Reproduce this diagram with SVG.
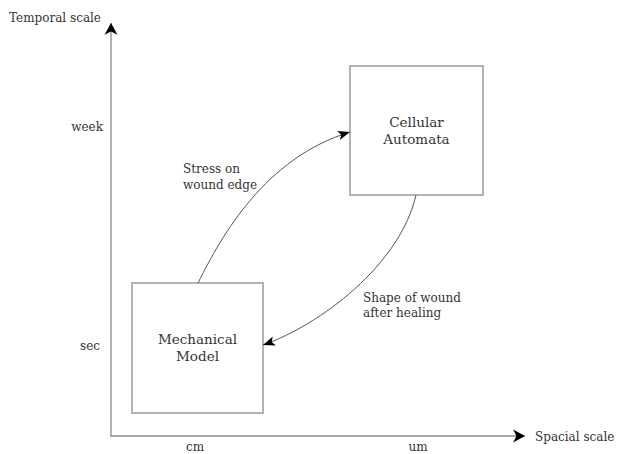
<svg xmlns="http://www.w3.org/2000/svg" width="618" height="454" viewBox="0 0 618 454">
<defs>
<style>
text{font-family:"DejaVu Serif","Liberation Serif",serif;fill:#333;}
.lbl{font-size:12px;}
.node{font-size:13.5px;text-anchor:middle;}
.box{fill:#fff;stroke:#9a9a9a;stroke-width:1.5;}
.axis{fill:none;stroke:#aaa;stroke-width:1.8;}
.edge{fill:none;stroke:#555;stroke-width:1;}
</style>
<marker id="ah" markerUnits="userSpaceOnUse" markerWidth="14" markerHeight="14" viewBox="0 0 12 13" refX="11" refY="6.5" orient="auto">
<path d="M0,0.5 L11,6.5 L0,12.5 L3,6.5 z" fill="#000"/>
</marker>
<marker id="ah2" markerUnits="userSpaceOnUse" markerWidth="13" markerHeight="13" viewBox="0 0 13 12" refX="12" refY="5.5" orient="auto">
<path d="M0,0.8 L12,5.5 L0,10.2 L2.8,5.5 z" fill="#000"/>
</marker>
</defs>
<g id="axes">
<path class="axis" d="M111,436 L111,23" marker-end="url(#ah)"/>
<path class="axis" d="M110,436 L525,436" marker-end="url(#ah)"/>
<text class="lbl" x="9" y="22">Temporal scale</text>
<text class="lbl" x="535" y="441">Spacial scale</text>
<text class="lbl" x="103" y="131" text-anchor="end">week</text>
<text class="lbl" x="100" y="350" text-anchor="end">sec</text>
<text class="lbl" x="195" y="451" text-anchor="middle">cm</text>
<text class="lbl" x="418" y="451" text-anchor="middle">um</text>
</g>
<g id="cellular-automata">
<rect class="box" x="350" y="66" width="133" height="129"/>
<text class="node" x="416.5" y="127">Cellular</text>
<text class="node" x="416.5" y="144">Automata</text>
</g>
<g id="mechanical-model">
<rect class="box" x="132" y="283" width="131" height="130"/>
<text class="node" x="197.5" y="344">Mechanical</text>
<text class="node" x="197.5" y="361">Model</text>
</g>
<g id="connectors">
<path class="edge" d="M198,283 C222,235 265,158 350,132" marker-end="url(#ah2)"/>
<path class="edge" d="M416,195 C400,265 320,325 263,345" marker-end="url(#ah2)"/>
<text class="lbl" x="183" y="173">Stress on</text>
<text class="lbl" x="183" y="189">wound edge</text>
<text class="lbl" x="363" y="302">Shape of wound</text>
<text class="lbl" x="363" y="317">after healing</text>
</g>
</svg>
